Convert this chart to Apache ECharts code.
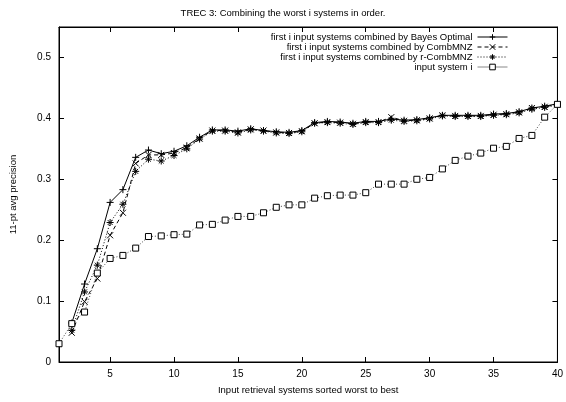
<!DOCTYPE html>
<html lang="en">
<head>
    <meta http-equiv="Content-Type" content="text/html; charset=utf-8" />
    <title>TREC 3</title>
    <style>
        html, body { margin: 0; padding: 0; background: #fff; }
    </style>
</head>
<body>
    <div id="chart" style="width: 566px; height: 402px; background:#fff"></div>
<script type="text/javascript" src="https://cdn.jsdelivr.net/npm/echarts@6/dist/echarts.min.js"></script>
<script type="text/javascript">
      var chart = echarts.init(document.getElementById('chart'));

      // input systems, sorted worst to best
      var systems = [1, 2, 3, 4, 5, 6, 7, 8, 9, 10,
                     11, 12, 13, 14, 15, 16, 17, 18, 19, 20,
                     21, 22, 23, 24, 25, 26, 27, 28, 29, 30,
                     31, 32, 33, 34, 35, 36, 37, 38, 39, 40];

      // first i input systems combined by Bayes Optimal
      var bayes = [null, 0.064, 0.128, 0.186, 0.262, 0.283, 0.336, 0.348, 0.342, 0.346,
                   0.355, 0.369, 0.381, 0.381, 0.379, 0.383, 0.380, 0.378, 0.377, 0.380,
                   0.393, 0.395, 0.394, 0.392, 0.395, 0.395, 0.399, 0.397, 0.398, 0.401,
                   0.405, 0.405, 0.405, 0.405, 0.407, 0.408, 0.411, 0.417, 0.420, 0.424];

      // first i input systems combined by CombMNZ
      var combMNZ = [null, 0.048, 0.099, 0.137, 0.208, 0.245, 0.326, 0.340, 0.340, 0.343,
                     0.352, 0.367, 0.380, 0.380, 0.377, 0.382, 0.380, 0.377, 0.376, 0.379,
                     0.392, 0.394, 0.393, 0.391, 0.394, 0.394, 0.402, 0.396, 0.397, 0.400,
                     0.405, 0.404, 0.404, 0.404, 0.406, 0.407, 0.410, 0.417, 0.419, 0.423];

      // first i input systems combined by r-CombMNZ
      var rCombMNZ = [null, 0.052, 0.115, 0.159, 0.229, 0.259, 0.313, 0.333, 0.330, 0.339,
                      0.350, 0.366, 0.379, 0.379, 0.376, 0.381, 0.379, 0.376, 0.375, 0.378,
                      0.392, 0.393, 0.392, 0.390, 0.393, 0.393, 0.397, 0.395, 0.396, 0.399,
                      0.404, 0.403, 0.403, 0.403, 0.405, 0.406, 0.409, 0.415, 0.418, 0.422];

      // input system i
      var inputSys = [0.030, 0.063, 0.082, 0.146, 0.170, 0.175, 0.187, 0.206, 0.207, 0.209,
                      0.210, 0.225, 0.226, 0.233, 0.239, 0.239, 0.245, 0.254, 0.258, 0.258,
                      0.269, 0.273, 0.274, 0.274, 0.278, 0.292, 0.292, 0.292, 0.300, 0.303,
                      0.317, 0.331, 0.338, 0.343, 0.351, 0.354, 0.367, 0.372, 0.402, 0.423];

      var xTicks = [5, 10, 15, 20, 25, 30, 35, 40];
      var yTicks = [0, 0.1, 0.2, 0.3, 0.4, 0.5];

      var names = ['first i input systems combined by Bayes Optimal',
                   'first i input systems combined by CombMNZ',
                   'first i input systems combined by r-CombMNZ',
                   'input system i'];

      function pairs(arr) {
        return systems.map(function (x, k) { return [x, arr[k]]; });
      }

      var font = 'Liberation Sans, Arial, Helvetica, sans-serif';
      var markPlus = 'path://M0,-1L0,1M-1,0L1,0';
      var markCross = 'path://M-1,-1L1,1M-1,1L1,-1';
      var markStar = 'path://M0,-1L0,1M-1,0L1,0M-0.7,-0.7L0.7,0.7M-0.7,0.7L0.7,-0.7';

      function xAx(pos, labels) {
        return {
          type: 'value', position: pos, min: 1, max: 40,
          axisLine: { show: true, onZero: false, lineStyle: { color: '#000', width: 1 } },
          axisTick: { show: true, inside: true, length: 5, customValues: xTicks, lineStyle: { color: '#000' } },
          axisLabel: { show: labels, customValues: xTicks, color: '#000', fontSize: 10, fontFamily: font, margin: 7 },
          splitLine: { show: false },
          name: labels ? 'Input retrieval systems sorted worst to best' : '',
          nameLocation: 'middle', nameGap: 23,
          nameTextStyle: { color: '#000', fontSize: 9.5, fontFamily: font }
        };
      }
      function yAx(pos, labels) {
        return {
          type: 'value', position: pos, min: 0, max: 0.55,
          axisLine: { show: true, onZero: false, lineStyle: { color: '#000', width: 1 } },
          axisTick: { show: true, inside: true, length: 5, customValues: yTicks, lineStyle: { color: '#000' } },
          axisLabel: { show: labels, customValues: yTicks, color: '#000', fontSize: 10, fontFamily: font, margin: 8 },
          splitLine: { show: false },
          name: labels ? '11-pt avg precision' : '',
          nameLocation: 'middle', nameGap: 41, nameRotate: 90,
          nameTextStyle: { color: '#000', fontSize: 9.5, fontFamily: font }
        };
      }

      var option = {
        backgroundColor: '#fff',
        animation: false,
        title: {
          text: 'TREC 3: Combining the worst i systems in order.',
          left: 'center', top: 3,
          textStyle: { color: '#000', fontSize: 9.5, fontWeight: 'normal', fontFamily: font }
        },
        grid: { left: 55, right: 4, top: 27, bottom: 40, show: true, borderColor: '#000', borderWidth: 1 },
        legend: {
          orient: 'vertical', right: 58, top: 32, align: 'right', padding: 0,
          itemWidth: 30, itemHeight: 7, itemGap: 0,
          lineStyle: { width: 1 },
          itemStyle: { borderWidth: 1 },
          textStyle: { color: '#000', fontSize: 9.5, lineHeight: 9, fontFamily: font },
          data: [
            { name: names[0] },
            { name: names[1] },
            { name: names[2] },
            { name: names[3], lineStyle: { type: 'solid', color: '#888', width: 1 } }
          ]
        },
        xAxis: [xAx('bottom', true), xAx('top', false)],
        yAxis: [yAx('left', true), yAx('right', false)],
        series: [
          {
            name: names[0], type: 'line', data: pairs(bayes),
            symbol: markPlus, symbolSize: 7,
            itemStyle: { color: '#000', borderColor: '#000', borderWidth: 1 },
            lineStyle: { color: '#000', width: 1, type: 'solid' }
          },
          {
            name: names[1], type: 'line', data: pairs(combMNZ),
            symbol: markCross, symbolSize: 6,
            itemStyle: { color: '#000', borderColor: '#000', borderWidth: 1 },
            lineStyle: { color: '#000', width: 1, type: [4, 3] }
          },
          {
            name: names[2], type: 'line', data: pairs(rCombMNZ),
            symbol: markStar, symbolSize: 7,
            itemStyle: { color: '#000', borderColor: '#000', borderWidth: 1 },
            lineStyle: { color: '#000', width: 1, type: [1, 2] }
          },
          {
            name: names[3], type: 'line', data: pairs(inputSys),
            symbol: 'rect', symbolSize: 6,
            itemStyle: { color: '#fff', borderColor: '#000', borderWidth: 1 },
            lineStyle: { color: '#444', width: 1, type: [1, 2] }
          }
        ]
      };

      chart.setOption(option);
</script>
</body>
</html>
